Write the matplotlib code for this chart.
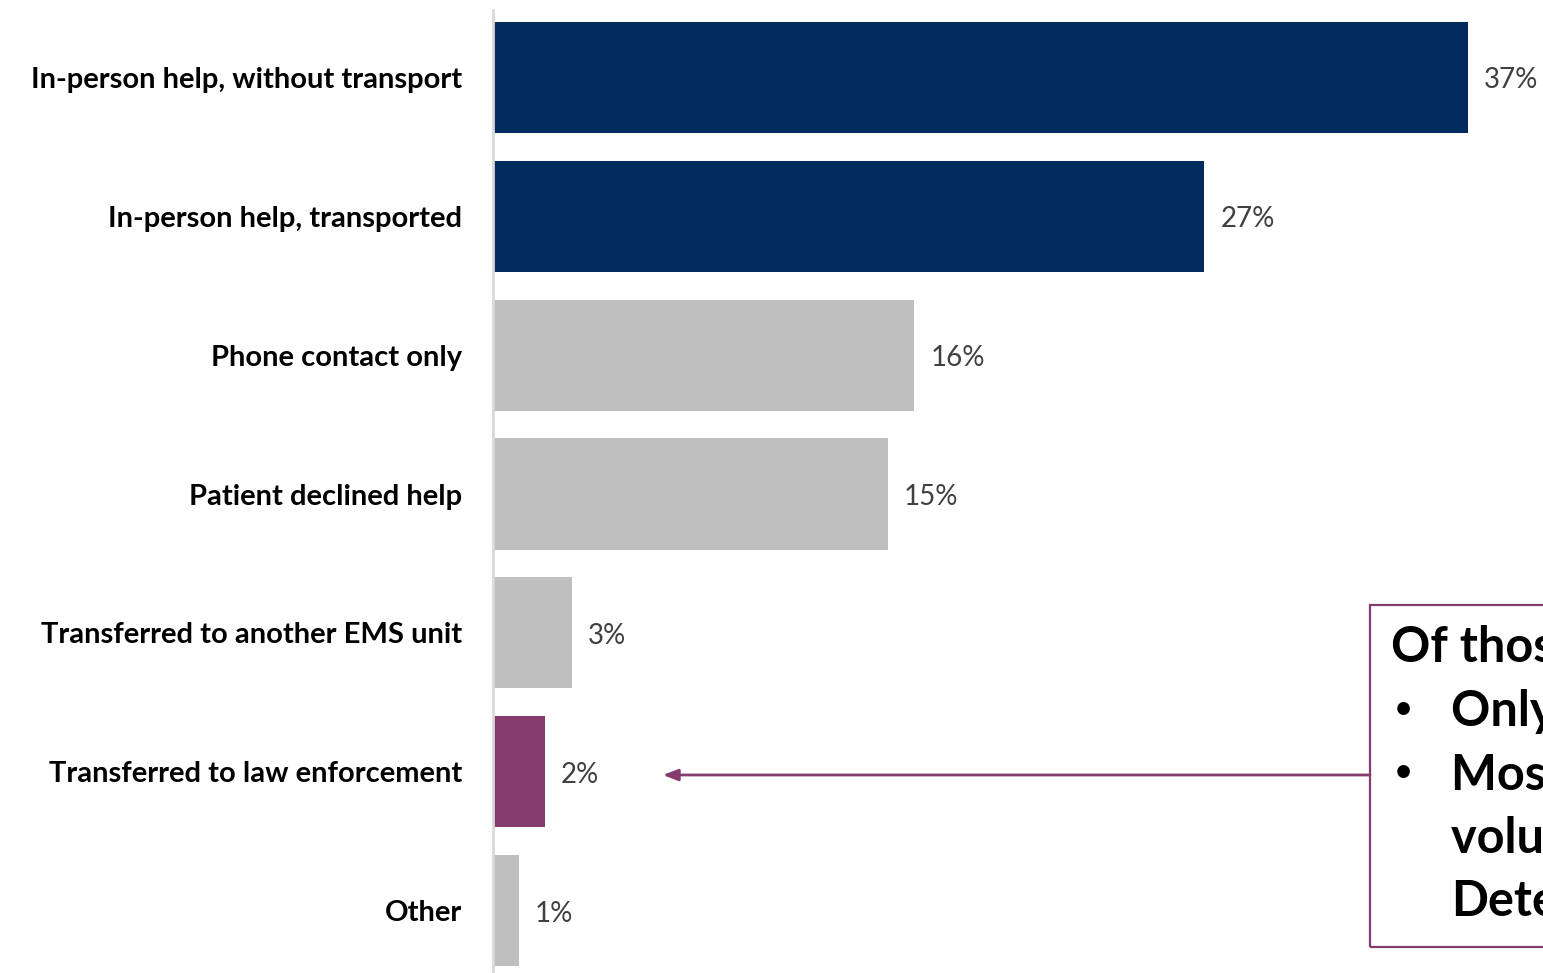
import matplotlib.pyplot as plt
from matplotlib.patches import Rectangle

# Outcome categories, top to bottom, and their share of calls (%)
categories = [
    "In-person help, without transport",
    "In-person help, transported",
    "Phone contact only",
    "Patient declined help",
    "Transferred to another EMS unit",
    "Transferred to law enforcement",
    "Other",
]
shares = [37, 27, 16, 15, 3, 2, 1]
bar_colors = ["#032C5E", "#032C5E", "#BFBFBF", "#BFBFBF", "#BFBFBF", "#843C6F", "#BFBFBF"]

callout_title = "Of those transferred to law enforcement:"
callout_bullets = [
    "Only a small share of all calls",
    "Most were for involuntary or",
    "voluntary holds or Emergency",
    "Detention",
]

PURPLE = "#843C6F"
plt.rcParams["font.family"] = ["Lato", "DejaVu Sans"]

W, H = 1543, 973
fig = plt.figure(figsize=(W / 100, H / 100), dpi=100)

# axes placed in pixel terms: bars start at x=492, rows ~139 px apart
ax_left, ax_top, ax_bottom = 492.5, 8.0, 980.0
ax = fig.add_axes([ax_left / W, 1 - ax_bottom / H, (W - ax_left) / W, (ax_bottom - ax_top) / H])
px_per_pct = (1468 - ax_left) / 37
px_per_row = (ax_bottom - ax_top) / len(categories)
ax.set_xlim(0, (W - ax_left) / px_per_pct)
ax.set_ylim(len(categories) - 0.5, -0.5)

ypos = range(len(categories))
ax.barh(ypos, shares, height=0.8, color=bar_colors)

for y, v in zip(ypos, shares):
    ax.text(v + 16 / px_per_pct, y + 3 / px_per_row, f"{v}%", va="center", ha="left",
            fontsize=20, color="#404040")

ax.set_yticks(list(ypos))
ax.set_yticklabels(categories, fontsize=21, fontweight="bold", color="black")
ax.tick_params(axis="y", length=0, pad=22)
ax.set_xticks([])
for side in ["top", "right", "bottom"]:
    ax.spines[side].set_visible(False)
ax.spines["left"].set_color("#D9D9D9")
ax.spines["left"].set_linewidth(2)
ax.spines["left"].set_bounds(len(categories) - 0.5, -0.5 + 2 / px_per_row)

# callout box, running off the right edge
box = Rectangle((1370 / W, 1 - 947 / H), 400 / W, (947 - 605) / H,
                transform=fig.transFigure, fill=False, edgecolor=PURPLE,
                linewidth=1.6, clip_on=False)
fig.patches.append(box)

fig.text(1391 / W, 1 - 648 / H, callout_title,
         fontsize=35, fontweight="bold", va="center", ha="left")
for by in [712, 775]:
    fig.text(1392 / W, 1 - by / H, "\u2022", fontsize=26, fontweight="bold",
             va="center", ha="left", family="DejaVu Sans")
for ly, txt in zip([712, 775, 838, 902], callout_bullets):
    fig.text(1451 / W, 1 - ly / H, txt, fontsize=35, fontweight="bold",
             va="center", ha="left")

# arrow from the callout to the law-enforcement bar
ax.annotate("", xy=(663, H - 775), xycoords="figure pixels",
            xytext=(1370, H - 775), textcoords="figure pixels",
            arrowprops=dict(arrowstyle="-|>,head_length=0.9,head_width=0.35",
                            color=PURPLE, lw=2, shrinkA=0, shrinkB=0))

fig.savefig("out.png", dpi=100)
